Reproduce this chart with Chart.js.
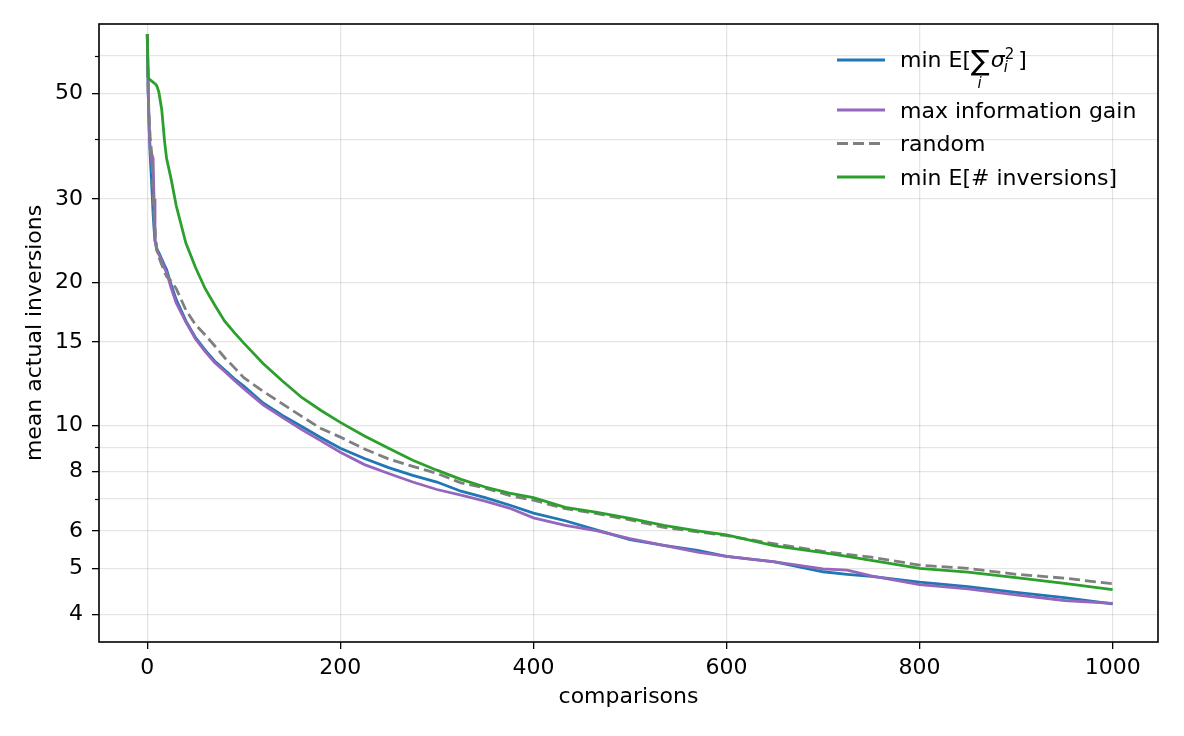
<!DOCTYPE html>
<html>
<head>
<meta charset="utf-8">
<script src="https://cdn.jsdelivr.net/npm/chart.js@4"></script>
<style>
    html, body { margin: 0; padding: 0; background: #fff; }
</style>
</head>
<body>
<canvas id="chart" width="1184" height="736"></canvas>
<script>
// values (x = comparisons, y = mean actual inversions)
const comparisons   = [0, 1, 2, 3, 4, 5, 6, 7, 8, 10, 12, 15, 18, 20, 25, 30, 40, 50, 60, 70, 80, 90, 100, 120, 140, 160, 180, 200, 225, 250, 275, 300, 325, 350, 375, 400, 433, 466, 500, 535, 570, 600, 650, 700, 725, 750, 800, 850, 900, 950, 1000];
const minSigma      = [66.6, 50, 42, 37, 34, 31, 28, 26, 24.5, 23.5, 23.1, 22.4, 21.7, 21.3, 19.7, 18.4, 16.6, 15.3, 14.4, 13.65, 13.1, 12.55, 12.1, 11.15, 10.5, 9.95, 9.42, 8.95, 8.52, 8.15, 7.85, 7.6, 7.27, 7.05, 6.8, 6.54, 6.3, 6.02, 5.75, 5.59, 5.46, 5.3, 5.16, 4.92, 4.86, 4.81, 4.68, 4.58, 4.45, 4.34, 4.21];
const maxInfoGain   = [66.6, 50, 42, 38, 36.5, 37, 36.5, 30, 24.5, 23.3, 22.9, 22.2, 21.4, 21.0, 19.4, 18.1, 16.5, 15.2, 14.3, 13.55, 13.0, 12.45, 11.95, 11.05, 10.4, 9.8, 9.28, 8.78, 8.27, 7.92, 7.6, 7.33, 7.13, 6.93, 6.7, 6.39, 6.16, 6.0, 5.78, 5.59, 5.41, 5.3, 5.16, 4.99, 4.96, 4.82, 4.62, 4.53, 4.4, 4.28, 4.22];
const randomPick    = [66.6, 50, 44, 40.5, 38.5, 36.5, 31, 27.5, 25.5, 23.5, 22.6, 21.8, 21.0, 20.6, 20.1, 19.4, 17.5, 16.3, 15.5, 14.7, 13.9, 13.25, 12.6, 11.8, 11.1, 10.45, 9.85, 9.45, 8.92, 8.5, 8.2, 7.93, 7.57, 7.38, 7.12, 6.96, 6.68, 6.52, 6.33, 6.1, 5.97, 5.86, 5.63, 5.43, 5.35, 5.28, 5.08, 5.0, 4.86, 4.77, 4.64];
const minInversions = [66.6, 54, 53.6, 53.4, 53.2, 53.0, 52.8, 52.6, 52.5, 51.8, 50.3, 46.2, 39.5, 36.5, 32.8, 29.0, 24.2, 21.5, 19.4, 17.9, 16.6, 15.7, 14.9, 13.5, 12.4, 11.45, 10.75, 10.15, 9.5, 8.95, 8.45, 8.05, 7.7, 7.42, 7.2, 7.05, 6.72, 6.56, 6.37, 6.16, 6.0, 5.88, 5.58, 5.4, 5.3, 5.2, 5.0, 4.91, 4.78, 4.65, 4.51];

const seriesNames  = ['min E[\u2211\u1D62\u03C3\u1D62\u00B2]', 'max information gain', 'random', 'min E[# inversions]'];
const seriesColors = ['#1f77b4', '#9467bd', '#7f7f7f', '#2ca02c'];

const xTicks   = [0, 200, 400, 600, 800, 1000];
const yTicks   = [4, 5, 6, 7, 8, 9, 10, 15, 20, 30, 40, 50, 60];
const yLabeled = [4, 5, 6, 8, 10, 15, 20, 30, 50];

const FONT = '"DejaVu Sans", sans-serif';
const GRID = 'rgba(0,0,0,0.1)';
const LW = 2.8;

const toPoints = ys => comparisons.map((x, i) => ({ x, y: ys[i] }));

function lineSet(i, ys, order, dash) {
    return {
        label: seriesNames[i],
        data: toPoints(ys),
        borderColor: seriesColors[i],
        borderWidth: LW,
        borderDash: dash || [],
        pointRadius: 0,
        tension: 0,
        order
    };
}

// frame, minor y ticks and the legend (with the math label) drawn by hand
const extras = {
    id: 'extras',
    afterDraw(chart) {
        const { ctx, chartArea: a, scales } = chart;
        ctx.save();
        ctx.strokeStyle = '#000';
        ctx.lineWidth = 1.6;
        ctx.strokeRect(a.left, a.top, a.right - a.left, a.bottom - a.top);

        ctx.lineWidth = 1.2;
        yTicks.filter(v => !yLabeled.includes(v)).forEach(v => {
            const y = Math.round(scales.y.getPixelForValue(v)) + 0.5;
            ctx.beginPath();
            ctx.moveTo(a.left - 4, y);
            ctx.lineTo(a.left, y);
            ctx.stroke();
        });

        const rows = [60, 110, 143.5, 177];
        rows.forEach((y, i) => {
            ctx.strokeStyle = seriesColors[i];
            ctx.lineWidth = LW;
            ctx.setLineDash(i === 2 ? [11, 5] : []);
            ctx.beginPath();
            ctx.moveTo(837, y);
            ctx.lineTo(885, y);
            ctx.stroke();
        });
        ctx.setLineDash([]);

        ctx.fillStyle = '#000';
        ctx.textAlign = 'left';
        ctx.textBaseline = 'alphabetic';
        ctx.font = '22px ' + FONT;
        for (let i = 1; i < 4; i++) ctx.fillText(seriesNames[i], 900, rows[i] + 7.5);

        // min E[ sum_i sigma_i^2 ]
        let x = 900;
        const base = 67;
        ctx.fillText('min E[', x, base);
        x += ctx.measureText('min E[').width;
        ctx.font = '28px ' + FONT;
        ctx.fillText('\u2211', x, base + 3);
        const sw = ctx.measureText('\u2211').width;
        ctx.font = 'italic 15px ' + FONT;
        ctx.fillText('i', x + sw / 2 - 3, base + 21);
        x += sw + 1;
        ctx.font = 'italic 22px ' + FONT;
        ctx.fillText('\u03C3', x, base);
        x += ctx.measureText('\u03C3').width;
        ctx.font = 'italic 15px ' + FONT;
        ctx.fillText('i', x - 1, base + 5);
        ctx.font = '15px ' + FONT;
        ctx.fillText('2', x, base - 8);
        x += ctx.measureText('2').width + 4;
        ctx.font = '22px ' + FONT;
        ctx.fillText(']', x, base);
        ctx.restore();
    }
};

new Chart(document.getElementById('chart'), {
    type: 'line',
    data: {
        datasets: [
            lineSet(0, minSigma, 4),
            lineSet(1, maxInfoGain, 3),
            lineSet(2, randomPick, 2, [11, 5]),
            lineSet(3, minInversions, 1)
        ]
    },
    options: {
        responsive: false,
        animation: false,
        devicePixelRatio: 1,
        layout: { padding: { top: 24, right: 26, left: 0, bottom: 0 } },
        plugins: { legend: { display: false }, tooltip: { enabled: false } },
        scales: {
            x: {
                type: 'linear',
                min: -50,
                max: 1047,
                afterBuildTicks: s => { s.ticks = xTicks.map(value => ({ value })); },
                afterFit: s => { s.height = 94; },
                ticks: { color: '#000', font: { family: FONT, size: 22 }, padding: 6, maxRotation: 0, callback: v => String(v) },
                grid: { color: GRID, lineWidth: 1.3, tickLength: 7, tickColor: '#000', tickWidth: 1.3 },
                border: { display: false },
                title: { display: true, text: 'comparisons', color: '#000', font: { family: FONT, size: 22 }, padding: { top: 0, bottom: 26 } }
            },
            y: {
                type: 'logarithmic',
                min: 3.5,
                max: 70,
                afterBuildTicks: s => { s.ticks = yTicks.map(value => ({ value })); },
                afterFit: s => { s.width = 99; },
                ticks: {
                    color: '#000',
                    font: { family: FONT, size: 22 },
                    padding: 9,
                    autoSkip: false,
                    callback: v => yLabeled.includes(v) ? String(v) : ''
                },
                grid: {
                    color: GRID,
                    lineWidth: 1.3,
                    tickLength: 7,
                    tickWidth: 1.3,
                    tickColor: c => yLabeled.includes(c.tick && c.tick.value) ? '#000' : 'rgba(0,0,0,0)'
                },
                border: { display: false },
                title: { display: true, text: 'mean actual inversions', color: '#000', font: { family: FONT, size: 22 }, padding: { top: 22, bottom: 0 } }
            }
        }
    },
    plugins: [extras]
});
</script>
</body>
</html>
